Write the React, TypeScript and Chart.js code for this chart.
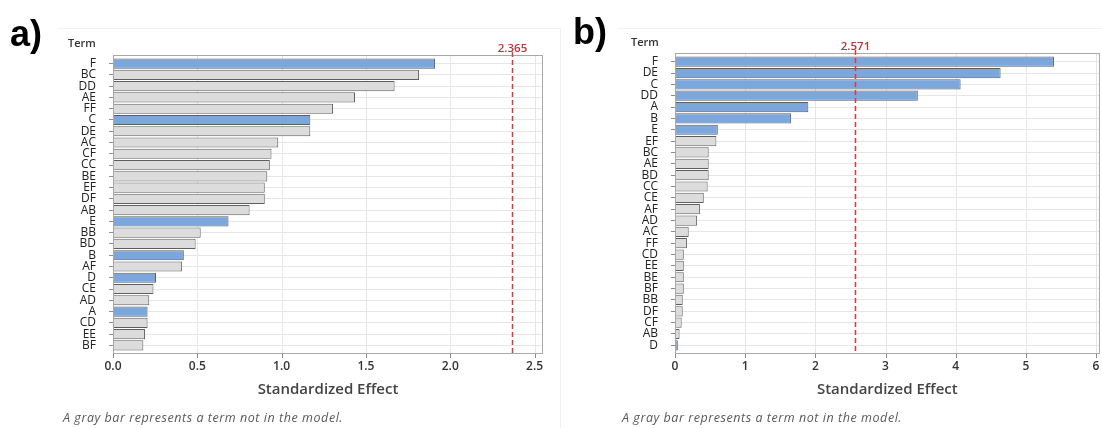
import React, { useEffect, useRef } from 'react';
import { Chart, registerables } from 'chart.js';

Chart.register(...registerables);

// ---------- data ----------
const termsA = ['F', 'BC', 'DD', 'AE', 'FF', 'C', 'DE', 'AC', 'CF', 'CC', 'BE', 'EF', 'DF', 'AB', 'E', 'BB', 'BD', 'B', 'AF', 'D', 'CE', 'AD', 'A', 'CD', 'EE', 'BF'];
const effectsA = [1.91, 1.815, 1.67, 1.435, 1.305, 1.17, 1.17, 0.98, 0.94, 0.93, 0.915, 0.9, 0.9, 0.81, 0.685, 0.52, 0.49, 0.42, 0.41, 0.255, 0.24, 0.215, 0.205, 0.205, 0.19, 0.18];
const inModelA = ['F', 'C', 'E', 'B', 'D', 'A'];
const criticalA = 2.365;
const xTicksA = [0, 0.5, 1.0, 1.5, 2.0, 2.5];
const xMaxA = 2.55;

const termsB = ['F', 'DE', 'C', 'DD', 'A', 'B', 'E', 'EF', 'BC', 'AE', 'BD', 'CC', 'CE', 'AF', 'AD', 'AC', 'FF', 'CD', 'EE', 'BE', 'BF', 'BB', 'DF', 'CF', 'AB', 'D'];
const effectsB = [5.4, 4.64, 4.07, 3.46, 1.9, 1.655, 0.61, 0.59, 0.48, 0.48, 0.48, 0.465, 0.41, 0.355, 0.315, 0.195, 0.17, 0.125, 0.125, 0.125, 0.125, 0.11, 0.11, 0.095, 0.065, 0.04];
const inModelB = ['F', 'DE', 'C', 'DD', 'A', 'B', 'E', 'D'];
const criticalB = 2.571;
const xTicksB = [0, 1, 2, 3, 4, 5, 6];
const xMaxB = 6.05;

const axisTitle = 'Standardized Effect';
const yTitle = 'Term';
const footnote = 'A gray bar represents a term not in the model.';

// ---------- styles ----------
const BLUE = '#7ba7dc';
const GRAY = '#dcdcdc';
const BAR_BORDER = '#5f5f5f';
const GRID = '#e6e6e6';
const FRAME = '#a9a9a9';
const TICK = '#8c8c8c';
const FONT = "'Open Sans', 'DejaVu Sans', sans-serif";
const FRAME_OUT = 3; // frame sits this many px beyond the bar band at top and bottom

const frameGridPlugin = {
  id: 'frameGrid',
  beforeDatasetsDraw(chart: any) {
    const { ctx, chartArea: ca, scales } = chart;
    const x = scales.x;
    ctx.save();
    ctx.strokeStyle = GRID;
    ctx.lineWidth = 1;
    x.ticks.forEach((t: any) => {
      const px = Math.round(x.getPixelForValue(t.value)) + 0.5;
      ctx.beginPath();
      ctx.moveTo(px, ca.top - FRAME_OUT);
      ctx.lineTo(px, ca.bottom + FRAME_OUT);
      ctx.stroke();
    });
    ctx.strokeStyle = TICK;
    x.ticks.forEach((t: any) => {
      const px = Math.round(x.getPixelForValue(t.value)) + 0.5;
      ctx.beginPath();
      ctx.moveTo(px, ca.bottom + FRAME_OUT);
      ctx.lineTo(px, ca.bottom + FRAME_OUT + 4);
      ctx.stroke();
    });
    ctx.restore();
  },
};

const refLinePlugin = {
  id: 'refLine',
  afterDatasetsDraw(chart: any, _args: any, opts: any) {
    const { ctx, chartArea: ca, scales } = chart;
    const x = scales.x;
    ctx.save();
    const top = Math.round(ca.top - FRAME_OUT);
    const bottom = Math.round(ca.bottom + FRAME_OUT);
    ctx.strokeStyle = FRAME;
    ctx.lineWidth = 1;
    ctx.setLineDash([]);
    ctx.strokeRect(Math.round(ca.left) + 0.5, top + 0.5, Math.round(ca.right - ca.left) - 1, bottom - top - 1);
    const px = Math.round(x.getPixelForValue(opts.value)) + 0.5;
    ctx.strokeStyle = '#e2343a';
    ctx.lineWidth = 1.5;
    ctx.setLineDash([5, 3]);
    ctx.beginPath();
    ctx.moveTo(px, top - 3);
    ctx.lineTo(px, bottom - 1);
    ctx.stroke();
    ctx.setLineDash([]);
    ctx.fillStyle = '#b5353b';
    ctx.font = `600 11.5px ${FONT}`;
    ctx.textAlign = 'center';
    ctx.textBaseline = 'alphabetic';
    ctx.fillText(opts.label, px, top - 3);
    ctx.restore();
  },
};

type PanelProps = {
  terms: string[];
  effects: number[];
  inModel: string[];
  critical: number;
  xTicks: number[];
  xMax: number;
  decimals: number;
  width: number;
  height: number;
  yWidth: number;
  frameTop: number;
  frameBottom: number;
  padRight: number;
};

function Panel(p: PanelProps) {
  const ref = useRef<HTMLCanvasElement | null>(null);
  useEffect(() => {
    if (!ref.current) return;
    const xMin = p.xTicks[0];
    const step = p.xTicks[1] - p.xTicks[0];
    const chart = new Chart(ref.current, {
      type: 'bar',
      data: {
        labels: p.terms,
        datasets: [
          {
            data: p.effects,
            backgroundColor: p.terms.map((t) => (p.inModel.includes(t) ? BLUE : GRAY)),
            borderColor: BAR_BORDER,
            borderWidth: 1,
            borderSkipped: false,
            barPercentage: 0.9,
            categoryPercentage: 1,
          },
        ],
      },
      options: {
        indexAxis: 'y',
        responsive: false,
        animation: false,
        layout: { padding: { top: p.frameTop + FRAME_OUT, right: p.padRight, left: 0, bottom: 0 } },
        plugins: {
          legend: { display: false },
          tooltip: { enabled: false },
          refLine: { value: p.critical, label: p.critical.toFixed(3) },
        } as any,
        scales: {
          x: {
            type: 'linear',
            min: xMin,
            max: p.xMax,
            afterFit: (s: any) => {
              s.height = p.height - (p.frameBottom - FRAME_OUT);
            },
            ticks: {
              stepSize: step,
              includeBounds: false,
              padding: 8.5,
              color: '#333333',
              font: { family: FONT, size: 12, weight: '600' },
              callback: (v: any) => Number(v).toFixed(p.decimals),
            },
            grid: { display: false, drawTicks: false },
            border: { display: false },
            title: {
              display: true,
              text: axisTitle,
              color: '#444444',
              font: { family: FONT, size: 15, weight: '600' },
              padding: { top: 0, bottom: 29 },
            },
          },
          y: {
            type: 'category',
            offset: true,
            afterFit: (s: any) => {
              s.width = p.yWidth;
            },
            ticks: {
              autoSkip: false,
              padding: 13,
              color: '#222222',
              font: { family: FONT, size: 12, lineHeight: 1 },
            },
            grid: { offset: false, color: GRID, tickColor: TICK, tickLength: 4 },
            border: { display: false },
          },
        },
      } as any,
      plugins: [frameGridPlugin as any, refLinePlugin as any],
    });
    return () => chart.destroy();
  }, []);
  return <canvas ref={ref} width={p.width} height={p.height} style={{ width: p.width, height: p.height, display: 'block' }} />;
}

const labelStyle = (left: number, top: number): React.CSSProperties => ({
  position: 'absolute',
  left,
  top,
  whiteSpace: 'nowrap',
});

const noteFont: React.CSSProperties = {
  font: `italic 12.5px ${FONT}`,
  letterSpacing: '0.55px',
  lineHeight: '12px',
  color: '#595959',
};

export default function App() {
  return (
    <div style={{ position: 'absolute', left: 0, top: 0, width: 1102, height: 428, background: '#ffffff', overflow: 'hidden' }}>
      {/* faint graph frames */}
      <div style={{ position: 'absolute', left: 58, top: 28, width: 502, height: 420, borderTop: '1px solid #f1f1f1', borderRight: '1px solid #f1f1f1' }} />
      <div style={{ position: 'absolute', left: 618, top: 28, width: 500, height: 1, borderTop: '1px solid #f1f1f1' }} />

      <div style={{ position: 'absolute', left: 0, top: 0 }}>
        <Panel terms={termsA} effects={effectsA} inModel={inModelA} critical={criticalA} xTicks={xTicksA} xMax={xMaxA} decimals={1} width={560} height={428} yWidth={113} frameTop={55} frameBottom={354} padRight={17} />
      </div>
      <div style={{ position: 'absolute', left: 560, top: 0 }}>
        <Panel terms={termsB} effects={effectsB} inModel={inModelB} critical={criticalB} xTicks={xTicksB} xMax={xMaxB} decimals={0} width={548} height={428} yWidth={115} frameTop={53} frameBottom={354} padRight={2} />
      </div>

      <div style={{ ...labelStyle(10, 15.5), font: "bold 36px 'Liberation Sans', Arial, sans-serif", lineHeight: '36px', color: '#000' }}>a)</div>
      <div style={{ ...labelStyle(573, 14), font: "bold 36px 'Liberation Sans', Arial, sans-serif", lineHeight: '36px', color: '#000' }}>b)</div>

      <div style={{ ...labelStyle(68, 37), font: `600 11px ${FONT}`, lineHeight: '11px', color: '#333' }}>{yTitle}</div>
      <div style={{ ...labelStyle(631, 36), font: `600 11px ${FONT}`, lineHeight: '11px', color: '#333' }}>{yTitle}</div>

      <div style={{ ...labelStyle(63, 411.5), ...noteFont }}>{footnote}</div>
      <div style={{ ...labelStyle(622, 411.5), ...noteFont }}>{footnote}</div>
    </div>
  );
}
